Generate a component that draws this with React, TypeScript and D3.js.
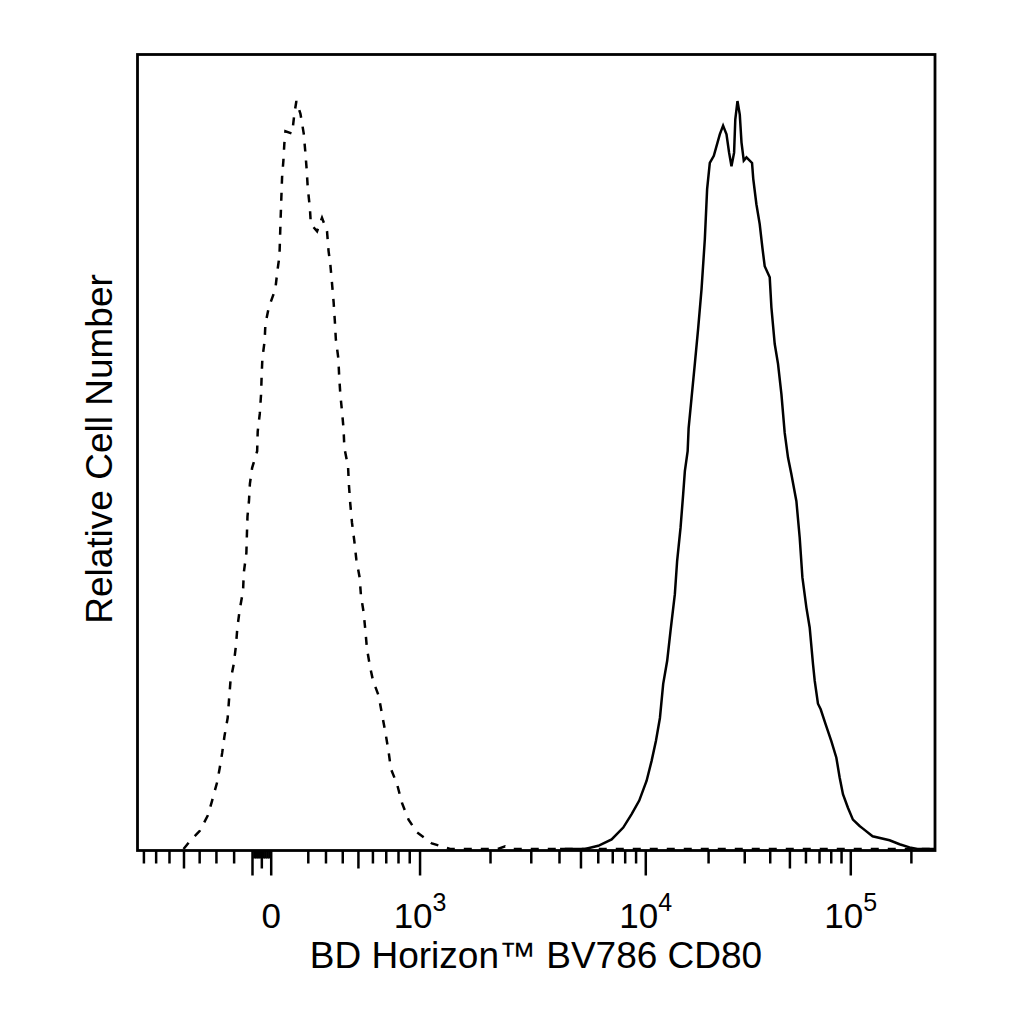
import React from 'react';
import * as d3 from 'd3';

// Isotype control (dashed) histogram: intensity (data units) and relative count
const isotypeIntensity = [
  -503, -469, -399, -351, -325, -296, -281, -267, -254, -236, -228, -220, -202, -190, -182, -169,
  -151, -147, -133, -130, -127, -119, -114, -102, -75, -72, -61, -54, -51, -47, -35, -31, -13,
  22, 33, 44, 49, 54, 58, 65, 70, 76, 112, 124, 135, 157, 175, 184, 191, 197, 209, 214, 249,
  277, 306, 315, 325, 335, 345, 352, 358, 373, 378, 385, 395, 405, 410, 433, 438, 447, 458,
  473, 486, 508, 517, 535, 547, 558, 581, 601, 642, 667, 693, 718, 737, 787, 830, 889, 969,
  1126, 1262, 1347, 2150, 2310, 2480, 262144,
];
const isotypeCount = [
  0, 0.8, 2.3, 4.2, 6.1, 8.4, 10.2, 12.1, 14.2, 16.5, 18.9, 21.2, 23.3, 25.6, 27.9, 30.2,
  32.5, 34.8, 37.3, 39.7, 41.9, 43.8, 46.0, 48.0, 50.1, 52.6, 54.8, 57.3, 59.6, 61.8, 64.0, 66.1, 68.2,
  70.5, 72.8, 74.7, 78.5, 82.0, 84.6, 86.7, 88.8, 90.4, 90.1, 92.6, 94.2, 92.6, 90.1, 87.7, 85.6, 83.3, 80.7, 78.7, 77.8,
  79.5, 77.8, 75.3, 73.7, 71.3, 68.8, 66.5, 64.2, 61.8, 59.6, 57.3, 55.2, 52.9, 50.5, 48.2, 46.0, 43.5, 41.1,
  38.8, 36.5, 34.2, 31.9, 29.8, 27.5, 25.2, 22.8, 21.2, 19.3, 17.0, 14.7, 12.3, 10.1, 8.2, 5.8, 3.7, 2.1,
  0.7, 0.25, 0, 0, 0.35, 0, 0,
];

// CD80 stained (solid) histogram
const cd80Intensity = [
  4023, 5217, 6001, 6917, 7834, 8576, 9314, 10093, 10656, 11170, 11672, 12098, 12640, 13117,
  13755, 14107, 14652, 15079, 15364, 15845, 16018, 16542, 17160, 17800, 18490, 19180, 19677,
  20275, 21205, 22672, 23524, 24440, 25160, 25845, 26614, 26978, 27645, 28373, 28921, 29676,
  30593, 32576, 33024, 34216, 35518, 36623, 37580, 39775, 40542, 42094, 43694, 45406, 47130,
  48935, 50845, 53821, 55880, 57622, 60297, 62590, 64995, 66266, 68784, 70939, 75078, 80100,
  84818, 88066, 91451, 96784, 102470, 110610, 114470, 128290, 155800, 174700, 195800, 214500, 262144,
];
const cd80Count = [
  0, 0, 0.4, 1.2, 2.7, 4.4, 6.1, 8.6, 11.1, 13.6, 16.5, 20.8, 23.7, 27.5,
  32.1, 36.3, 40.5, 44.7, 47.6, 50.1, 53.0, 56.8, 61.1, 65.5, 70.5, 76.8, 83.1,
  86.4, 87.3, 90.0, 91.1, 90.0, 87.7, 86.0, 87.7, 91.9, 94.2, 92.5, 89.0, 86.7,
  87.1, 86.4, 84.4, 81.2, 78.7, 75.7, 73.4, 72.0, 68.2, 63.6, 61.1, 57.3, 52.4,
  49.3, 47.2, 43.8, 39.2, 34.2, 30.4, 27.9, 23.3, 21.2, 18.3, 17.6, 15.7, 13.6,
  11.5, 9.0, 6.9, 5.2, 3.7, 2.9, 2.6, 1.6, 1.1, 0.6, 0.2, 0, 0,
];

// Axis ticks (data units)
const majorTicks = [-100, 0, 1000, 10000, 100000];
const midTicks = [-500, -50, 500, 5000, 50000];
const minorTicks = [
  -800, -700, -600, -400, -300, -200, 200, 300, 400, 600, 700, 800, 900,
  2000, 3000, 4000, 6000, 7000, 8000, 9000,
  20000, 30000, 40000, 60000, 70000, 80000, 90000, 200000,
];
const fineTicks = [-90, -80, -70, -60, -40, -30, -20, -10];
const labelValues = [0, 1000, 10000, 100000];
const labelBases = ['0', '10', '10', '10'];
const labelExponents = ['', '3', '4', '5'];

const xTitle = 'BD Horizon™ BV786 CD80';
const yTitle = 'Relative Cell Number';

const X_MIN = -856;
const X_MAX = 262144;
const Y_MAX = 100;

// Logicle (biexponential) transform
const LOGICLE_K = 127;
const LOGICLE_P = 2.65;
function logicleData(u: number): number {
  const a = Math.abs(u);
  const p2 = LOGICLE_P * LOGICLE_P;
  const s = LOGICLE_K * (Math.pow(10, a) - p2 * Math.pow(10, -a / LOGICLE_P) + p2 - 1);
  return u < 0 ? -s : s;
}
function logicle(v: number): number {
  let lo = -3, hi = 5;
  for (let i = 0; i < 80; i++) {
    const mid = (lo + hi) / 2;
    if (logicleData(mid) < v) lo = mid; else hi = mid;
  }
  return (lo + hi) / 2;
}

const FONT = '"Liberation Sans", Arial, Helvetica, sans-serif';

export default function App() {
  const left = 137.5, right = 935, top = 54.5, bottom = 850.5;
  const baseY = 849;
  const xLin = d3.scaleLinear().domain([logicle(X_MIN), logicle(X_MAX)]).range([left, right]);
  const x = (v: number) => xLin(logicle(v));
  const y = d3.scaleLinear().domain([0, Y_MAX]).range([baseY, top + 0.5]);

  const line = d3.line<[number, number]>().x(d => x(d[0])).y(d => y(d[1]));
  const iso = isotypeIntensity.map((v, i) => [v, isotypeCount[i]] as [number, number]);
  const cd80 = cd80Intensity.map((v, i) => [v, cd80Count[i]] as [number, number]);

  const axisY = bottom + 1;
  const tickGroups: { vals: number[]; len: number }[] = [
    { vals: majorTicks, len: 24 },
    { vals: midTicks, len: 17 },
    { vals: minorTicks, len: 12 },
    { vals: fineTicks, len: 7 },
  ];

  return (
    <svg width={1024} height={1024} style={{ position: 'absolute', left: 0, top: 0, background: '#fff' }}>
      <rect x={0} y={0} width={1024} height={1024} fill="#fff" />
      <path d={line(iso) || ''} fill="none" stroke="#000" strokeWidth={2.5} strokeDasharray="8 9" />
      <path d={line(cd80) || ''} fill="none" stroke="#000" strokeWidth={2.5} />
      <rect x={left} y={top} width={right - left} height={bottom - top} fill="none" stroke="#000" strokeWidth={2.8} />
      {tickGroups.map((g, gi) =>
        g.vals.map(v => (
          <line key={`${gi}-${v}`} x1={x(v)} x2={x(v)} y1={axisY - 1} y2={axisY + g.len} stroke="#000" strokeWidth={2.5} />
        ))
      )}
      {labelValues.map((v, i) => (
        <text key={v} x={x(v)} y={928} textAnchor="middle" fontFamily={FONT} fontSize={35} fill="#000">
          {labelBases[i]}
          {labelExponents[i] ? <tspan dy={-17} fontSize={25}>{labelExponents[i]}</tspan> : null}
        </text>
      ))}
      <text x={536} y={968} textAnchor="middle" fontFamily={FONT} fontSize={37} fill="#000">{xTitle}</text>
      <text transform="translate(112, 449) rotate(-90)" textAnchor="middle" fontFamily={FONT} fontSize={37} fill="#000">{yTitle}</text>
    </svg>
  );
}
